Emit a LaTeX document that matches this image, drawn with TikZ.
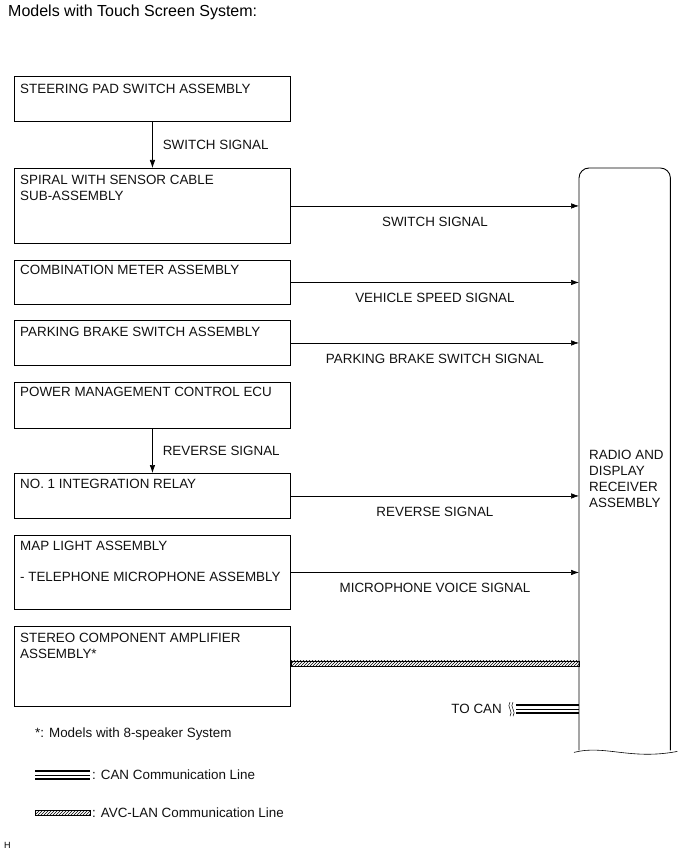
\documentclass[tikz,border=0pt]{standalone}
\usepackage{fontspec}
\setmainfont{Liberation Sans}
\usepackage{xcolor}
\definecolor{cLine}{HTML}{000000}
\definecolor{cText}{HTML}{111111}
\usepackage{tikz}
\usetikzlibrary{positioning,arrows.meta,patterns,calc}
\tikzset{
  node-box/.style={draw=cLine,line width=0.9pt,rectangle,minimum width=276pt,
    anchor=north west,inner sep=0pt},
  node-text/.style={anchor=north west,align=left,inner sep=0pt,text=cText,
    font=\fontsize{13.4}{16}\selectfont},
  sig-label/.style={text=cText,font=\fontsize{13.4}{16}\selectfont,inner sep=0pt},
  arrow/.style={-{Latex[length=8pt,width=5.5pt]},line width=0.6pt,draw=cLine},
  line-avc/.style={draw=cLine,line width=0.5pt,pattern=north east lines,
    pattern color=cLine},
  line-can/.style={draw=cLine,line width=1.6pt},
}

\begin{document}
\begin{tikzpicture}[x=1pt,y=-1pt]
  \useasboundingbox (0,0) rectangle (689,853);
  \node[anchor=north west,inner sep=0pt,font=\fontsize{16}{18}\selectfont]
    (title) at (8,5) {Models with Touch Screen System:};

  % left column
  \node[node-box,minimum height=45pt] (steer)  at (14,76)  {};
  \node[node-box,minimum height=75pt] (spiral) at (14,168) {};
  \node[node-box,minimum height=44pt] (meter)  at (14,260) {};
  \node[node-box,minimum height=45pt] (brake)  at (14,320) {};
  \node[node-box,minimum height=46pt] (pmecu)  at (14,382) {};
  \node[node-box,minimum height=45pt] (relay)  at (14,473) {};
  \node[node-box,minimum height=74pt] (maplt)  at (14,535) {};
  \node[node-box,minimum height=80pt] (amp)    at (14,626) {};

  \node[node-text] at ([shift={(6pt,-8pt)}]steer.north west)  {STEERING PAD SWITCH ASSEMBLY};
  \node[node-text] at ([shift={(6pt,-7pt)}]spiral.north west) {SPIRAL WITH SENSOR CABLE\\SUB-ASSEMBLY};
  \node[node-text] at ([shift={(6pt,-5pt)}]meter.north west)  {COMBINATION METER ASSEMBLY};
  \node[node-text] at ([shift={(6pt,-7pt)}]brake.north west)  {PARKING BRAKE SWITCH ASSEMBLY};
  \node[node-text] at ([shift={(6pt,-5pt)}]pmecu.north west)  {POWER MANAGEMENT CONTROL ECU};
  \node[node-text] at ([shift={(6pt,-6pt)}]relay.north west)  {NO. 1 INTEGRATION RELAY};
  \node[node-text] at ([shift={(6pt,-6pt)}]maplt.north west)
    {MAP LIGHT ASSEMBLY\\[15pt]- TELEPHONE MICROPHONE ASSEMBLY};
  \node[node-text] at ([shift={(6pt,-7pt)}]amp.north west)    {STEREO COMPONENT AMPLIFIER\\ASSEMBLY*};

  % receiver
  \node[minimum width=91pt,minimum height=582pt,anchor=north west,inner sep=0pt]
    (radio) at (579,168) {};
  \draw[line width=0.9pt,draw=cLine,rounded corners=10pt]
    (radio.south west) -- (radio.north west) -- (radio.north east) -- (radio.south east);
  \draw[line width=0.6pt,draw=cLine]
    ($(radio.south west)+(-5,2)$) .. controls ($(radio.south west)+(25,-6)$)
    and ($(radio.south east)+(-40,10)$) .. ($(radio.south east)+(7,1)$);
  \node[node-text] at ([shift={(10pt,-282pt)}]radio.north west)
    {RADIO AND\\DISPLAY\\RECEIVER\\ASSEMBLY};

  % signals
  \draw[arrow] (steer.south) -- (spiral.north)
    node[sig-label,midway,right=10pt] {SWITCH SIGNAL};
  \draw[arrow] (pmecu.south) -- (relay.north)
    node[sig-label,midway,right=10pt] {REVERSE SIGNAL};
  \foreach \src/\txt in {spiral/SWITCH SIGNAL,meter/VEHICLE SPEED SIGNAL,
      brake/PARKING BRAKE SWITCH SIGNAL,relay/REVERSE SIGNAL,
      maplt/MICROPHONE VOICE SIGNAL} {
    \draw[arrow] (\src.east) -- (\src.east -| radio.west)
      node[sig-label,midway,below=10.5pt] {\txt};
  }

  % AVC-LAN and CAN
  \path ([yshift=3pt]amp.east) coordinate (avcA) -- (avcA -| radio.west) coordinate (avcB);
  \draw[line-avc] ($(avcA)+(0,-2.5)$) rectangle ($(avcB)+(0,2.5)$);
  \coordinate (canB) at ($(radio.west)+(0,250)$);
  \coordinate (canA) at ($(canB)+(-63,0)$);
  \draw[line-can] ($(canA)+(0,-4)$) -- ($(canB)+(0,-4)$);
  \draw[draw=cLine,line width=0.8pt] (canA) -- (canB);
  \draw[line-can] ($(canA)+(0,4)$) -- ($(canB)+(0,4)$);
  \foreach \dx in {-6,-3} {
    \draw[line width=0.5pt] ($(canA)+(\dx,-7)$) .. controls ($(canA)+(\dx-4,-3)$)
      and ($(canA)+(\dx+4,3)$) .. ($(canA)+(\dx,7)$);
  }
  \node[sig-label,anchor=east] (tocan) at ($(canA)+(-14,0)$) {TO CAN};

  % legend
  \node[node-text] (note) at (35,728) {*: Models with 8-speaker System};
  \coordinate (legCan) at (35,775);
  \draw[line-can] ($(legCan)+(0,-4)$) -- ++(55,0);
  \draw[draw=cLine,line width=0.8pt] (legCan) -- ++(55,0);
  \draw[line-can] ($(legCan)+(0,4)$) -- ++(55,0);
  \node[sig-label,anchor=west] at ($(legCan)+(57,0)$) {: CAN Communication Line};
  \coordinate (legAvc) at (35,813);
  \draw[line-avc] ($(legAvc)+(0,-2.5)$) rectangle ($(legAvc)+(55,2.5)$);
  \node[sig-label,anchor=west] at ($(legAvc)+(57,0)$) {: AVC-LAN Communication Line};
  \node[anchor=west,inner sep=0pt,font=\fontsize{9}{10}\selectfont] (tag) at (4,845) {H};
\end{tikzpicture}
\end{document}
